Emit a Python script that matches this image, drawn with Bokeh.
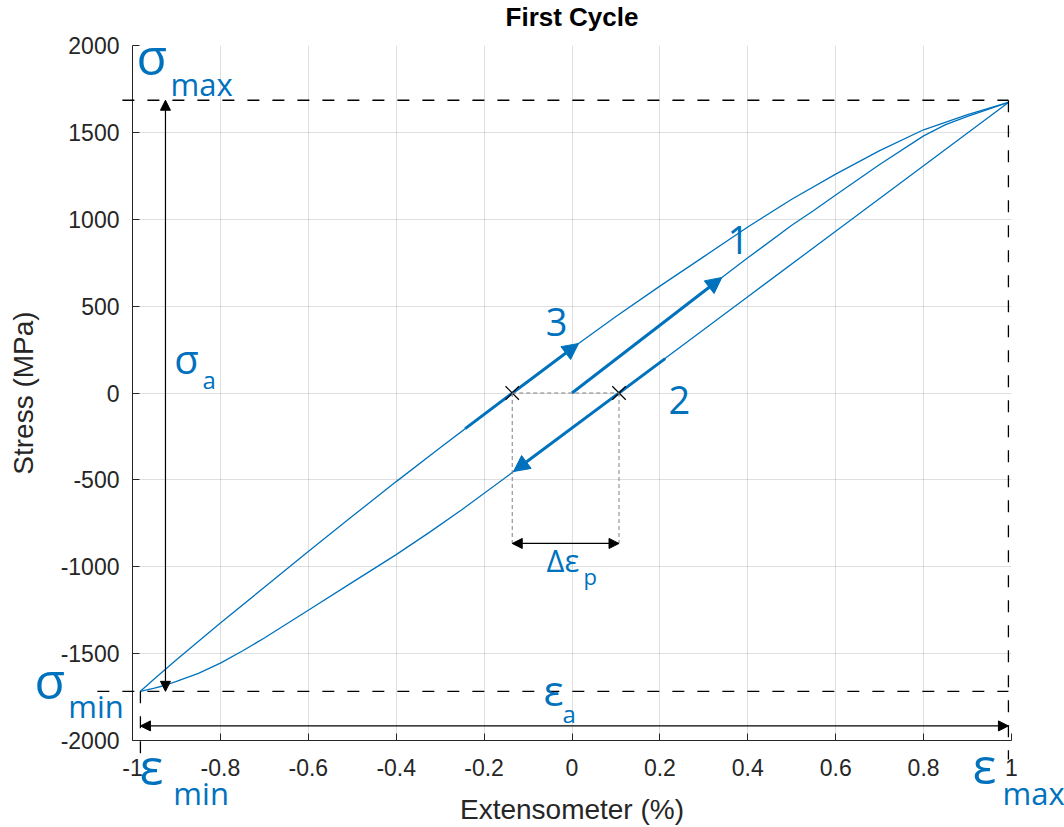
from bokeh.plotting import figure
from bokeh.models import Range1d, FixedTicker, Label, Arrow, NormalHead, GridBox, Column
from bokeh.embed import file_html
from bokeh.resources import INLINE

# ---------------- data ----------------
# branch 1: initial loading from the origin
load1_strain = [0, 0.1, 0.2, 0.3, 0.4, 0.5, 0.55, 0.6, 0.7, 0.8, 0.85, 0.9, 0.993]
load1_stress = [0, 195, 390, 585, 778, 965, 1050, 1140, 1315, 1480, 1545, 1592, 1672]
# branch 2: unloading from max to min
unload2_strain = [0.993, 0.8, 0.6, 0.4, 0.2, 0.107, 0, -0.136, -0.25, -0.322, -0.4,
                  -0.5, -0.6, -0.7, -0.75, -0.8, -0.85, -0.9, -0.925, -0.95, -0.982]
unload2_stress = [1672, 1308, 931, 554, 177, 0, -202, -458, -670, -798, -930,
                  -1090, -1250, -1410, -1485, -1555, -1614, -1660, -1682, -1698, -1717]
# branch 3: reloading from min to max
reload3_strain = [-0.982, -0.95, -0.9, -0.8, -0.7, -0.6, -0.5, -0.4, -0.3, -0.2, -0.136,
                  -0.1, 0, 0.1, 0.2, 0.3, 0.4, 0.5, 0.6, 0.7, 0.8, 0.9, 0.993]
reload3_stress = [-1717, -1645, -1535, -1324, -1118, -912, -710, -510, -315, -123, 0,
                  68, 258, 440, 615, 785, 955, 1115, 1260, 1395, 1515, 1602, 1672]

# thick direction arrows on the branches: (x_start, y_start, x_end, y_end)
arrow1 = [0, 0, 0.341, 665]
arrow2 = [0.212, 198, -0.133, -452]
arrow3 = [-0.243, -205, 0.015, 285]

# characteristic values
sigma_max = 1685
sigma_min = -1717
eps_max = 0.993
eps_min = -0.982
eps_a_level = -1916
sigma_a_pos = -0.925
crossing_strain = [-0.136, 0.107]
crossing_stress = [0, 0]
dep_level = -866

x_ticks = [-1, -0.8, -0.6, -0.4, -0.2, 0, 0.2, 0.4, 0.6, 0.8, 1]
x_tick_labels = ["-1", "-0.8", "-0.6", "-0.4", "-0.2", "0", "0.2", "0.4", "0.6", "0.8", "1"]
y_ticks = [-2000, -1500, -1000, -500, 0, 500, 1000, 1500, 2000]
y_tick_labels = ["-2000", "-1500", "-1000", "-500", "0", "500", "1000", "1500", "2000"]

title_text = "First Cycle"

# annotation texts: (text, x, y, font size px), positioned in data units (centre-left)
annotations = [
    ("σ", -0.991, 1940, 50), ("max", -0.9135, 1779, 31),
    ("σ", -1.223, -1649, 50), ("min", -1.146, -1804, 31),
    ("ε", -0.984, -2149, 50), ("min", -0.907, -2305, 31),
    ("ε", 0.911, -2143, 50), ("max", 0.9795, -2305, 31),
    ("σ", -0.905, 199, 40), ("a", -0.841, 78, 24),
    ("ε", -0.065, -1706, 42), ("a", -0.0216, -1844, 24),
    ("Δε", -0.058, -964, 31), ("p", 0.026, -1051, 22),
    ("1", 0.354, 881, 38), ("2", 0.2196, -43, 38), ("3", -0.060, 411, 38),
]

BLUE = "#0072BD"
AX = "#262626"
TICK_FONT = "Liberation Sans"
ANN_FONT = "Open Sans"

W, H = 1064, 827
FL, FR, FT, FB = 132, 1011, 45, 740   # frame edges in px

p = figure(width=W, height=H, output_backend="svg", toolbar_location=None,
           x_range=Range1d(-1, 1), y_range=Range1d(-2000, 2000),
           min_border_left=FL, min_border_right=W - FR, min_border_top=FT, min_border_bottom=H - FB)
p.background_fill_color = "white"
p.border_fill_color = "white"
p.outline_line_color = None

for ax, ticks, labels in ((p.xaxis[0], x_ticks, x_tick_labels), (p.yaxis[0], y_ticks, y_tick_labels)):
    ax.ticker = FixedTicker(ticks=ticks)
    ax.major_label_overrides = {t: l for t, l in zip(ticks, labels)}
    ax.major_tick_in = 7
    ax.major_tick_out = 0
    ax.minor_tick_line_color = None
    ax.axis_line_color = AX
    ax.major_tick_line_color = AX
    ax.major_label_text_font = TICK_FONT
    ax.major_label_text_font_size = "23px"
    ax.major_label_text_color = AX
    ax.axis_label_text_font = TICK_FONT
    ax.axis_label_text_font_size = "28px"
    ax.axis_label_text_font_style = "normal"
    ax.axis_label_text_color = AX

p.xaxis.major_label_standoff = 18
p.xaxis.axis_label_standoff = 15
p.yaxis.major_label_standoff = 13
p.yaxis.axis_label_standoff = 19
p.xaxis.axis_label = "Extensometer (%)"
p.yaxis.axis_label = "Stress (MPa)"

p.xgrid[0].ticker = FixedTicker(ticks=x_ticks)
p.ygrid[0].ticker = FixedTicker(ticks=y_ticks)
for g in (p.xgrid[0], p.ygrid[0]):
    g.grid_line_color = AX
    g.grid_line_alpha = 0.15
    g.grid_line_width = 1

# hysteresis branches
p.line(load1_strain, load1_stress, line_color=BLUE, line_width=1.3)
p.line(unload2_strain, unload2_stress, line_color=BLUE, line_width=1.3)
p.line(reload3_strain, reload3_stress, line_color=BLUE, line_width=1.3)

# thick direction arrows
for a in (arrow1, arrow2, arrow3):
    p.add_layout(Arrow(end=NormalHead(size=16, fill_color=BLUE, line_color=BLUE),
                       x_start=a[0], y_start=a[1], x_end=a[2], y_end=a[3],
                       line_color=BLUE, line_width=3))

# ---- transparent overlay with the same data mapping, covering the whole canvas ----
sx = (FR - FL) / 2.0            # px per strain unit
sy = (FB - FT) / 4000.0         # px per MPa
ov = figure(width=W, height=H, output_backend="svg", toolbar_location=None,
            x_axis_type=None, y_axis_type=None,
            x_range=Range1d(-1 - FL / sx, 1 + (W - FR) / sx),
            y_range=Range1d(-2000 - (H - FB) / sy, 2000 + FT / sy),
            min_border=0)
ov.background_fill_color = None
ov.border_fill_color = None
ov.outline_line_color = None
ov.grid.visible = False

def dline(x0, y0, x1, y1, color="black", dash="12 13", width=1.3):
    ov.add_layout(Arrow(start=None, end=None, x_start=x0, y_start=y0, x_end=x1, y_end=y1,
                        line_color=color, line_dash=dash, line_width=width))

def darrow(x0, y0, x1, y1, size=10):
    ov.add_layout(Arrow(start=NormalHead(size=size, fill_color="black", line_color="black"),
                        end=NormalHead(size=size, fill_color="black", line_color="black"),
                        x_start=x0, y_start=y0, x_end=x1, y_end=y1,
                        line_color="black", line_width=1.2))

# black dashed reference lines (extending beyond the axes)
dline(-1.023, sigma_max, eps_max, sigma_max)
dline(-1.08, sigma_min, eps_max, sigma_min)
dline(eps_min, sigma_min, eps_min, -2110)
dline(eps_max, sigma_max, eps_max, -2110)

# sigma_a and eps_a double arrows
darrow(sigma_a_pos, sigma_max, sigma_a_pos, sigma_min)
darrow(eps_min, eps_a_level, eps_max, eps_a_level)

# plastic strain range construction
dline(crossing_strain[0], 0, crossing_strain[1], 0, color="#808080", dash="4 3", width=1)
dline(crossing_strain[0], 0, crossing_strain[0], dep_level, color="#808080", dash="4 3", width=1)
dline(crossing_strain[1], 0, crossing_strain[1], dep_level, color="#808080", dash="4 3", width=1)
darrow(crossing_strain[0], dep_level, crossing_strain[1], dep_level, size=10)
ov.scatter(crossing_strain, crossing_stress, marker="x", size=19, line_color="black", line_width=1.2)

for t, x, y, s in annotations:
    ov.add_layout(Label(x=x, y=y, text=t, text_font=ANN_FONT, text_font_size=f"{s}px",
                        text_color=BLUE, text_align="left", text_baseline="middle"))

# chart title (centred above the axes)
ov.add_layout(Label(x=0, y=2000 + (FT - 16) / sy, text=title_text, text_font=TICK_FONT,
                    text_font_size="26px", text_font_style="bold", text_color="#000000",
                    text_align="center", text_baseline="middle"))

layout = GridBox(children=[(p, 0, 0), (Column(children=[ov]), 0, 0)])
open("out.html", "w").write(file_html(layout, INLINE))
